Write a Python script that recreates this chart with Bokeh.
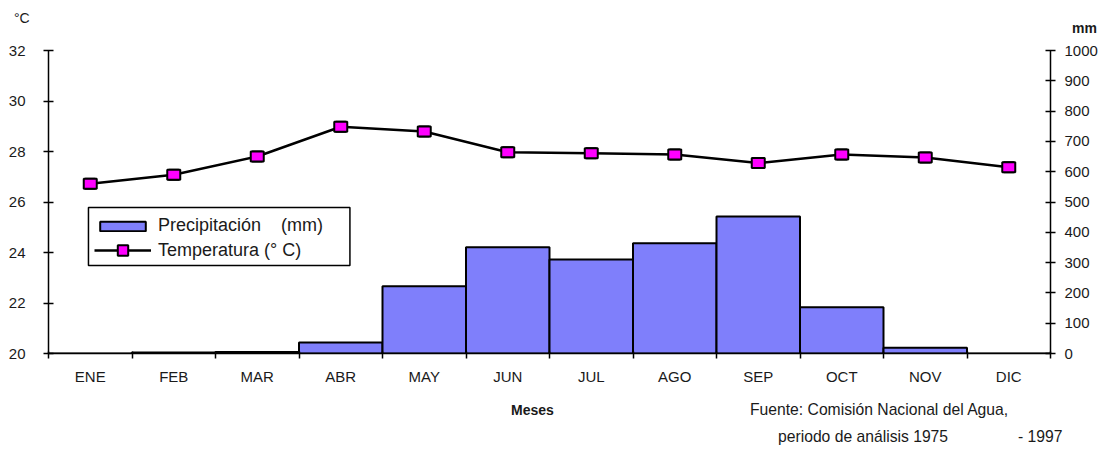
from bokeh.plotting import figure
from bokeh.models import (Range1d, LinearAxis, FixedTicker, Legend, LegendItem, Div, BoxAnnotation)
from bokeh.layouts import column
from bokeh.embed import file_html
from bokeh.resources import INLINE

months = ["ENE", "FEB", "MAR", "ABR", "MAY", "JUN", "JUL", "AGO", "SEP", "OCT", "NOV", "DIC"]
temperature = [26.72, 27.08, 27.8, 28.98, 28.79, 27.97, 27.93, 27.88, 27.54, 27.88, 27.76, 27.38]
precipitation = [0, 3, 5, 36, 222, 351, 310, 364, 452, 153, 19, 0]
temp_ticks = [20, 22, 24, 26, 28, 30, 32]
mm_ticks = [0, 100, 200, 300, 400, 500, 600, 700, 800, 900, 1000]

x_centers = [i + 0.5 for i in range(len(months))]
x_bounds = list(range(len(months) + 1))

FONT = "Liberation Sans"
TXT = "#1a1a1a"
W = 1100

top_div = Div(width=W, height=40, margin=0, text=(
    f'<div style="position:relative;width:{W}px;height:40px;font-family:\'{FONT}\';color:{TXT};white-space:nowrap">'
    '<span style="position:absolute;left:14px;top:10px;font-size:14px;line-height:16px">°C</span>'
    '<span style="position:absolute;left:1072px;top:20px;font-size:14px;font-weight:bold;line-height:16px">mm</span>'
    '</div>'))

p = figure(width=W, height=355, output_backend="svg", toolbar_location=None,
           x_range=Range1d(0, len(months)), y_range=Range1d(20, 32),
           min_border_left=48, min_border_right=49, min_border_top=10, min_border_bottom=42,
           margin=0)
p.extra_y_ranges = {"mm": Range1d(0, 1000)}
p.outline_line_color = None
p.xgrid.visible = False
p.ygrid.visible = False
p.background_fill_color = "white"
p.border_fill_color = "white"

# bars
bars = p.vbar(x=x_centers, top=precipitation, bottom=0, width=1, y_range_name="mm",
              fill_color="#7f7ffb", line_color="black", line_width=2)
# temperature line
line = p.line(x=x_centers, y=temperature, line_color="black", line_width=2.5)
marker = p.scatter(x=x_centers, y=temperature, marker="square", size=10, fill_color="#ff00ff",
                   line_color="black", line_width=2)
p.rect(x=x_centers, y=temperature, width=13, height=10, width_units="screen",
       height_units="screen", fill_color="#ff00ff", line_color="black", line_width=2)

# x axis
xa = p.xaxis[0]
xa.ticker = FixedTicker(ticks=x_centers, minor_ticks=x_bounds)
xa.major_label_overrides = {c: m for c, m in zip(x_centers, months)}
xa.major_tick_line_color = None
xa.major_tick_in = 0
xa.major_tick_out = 5
xa.minor_tick_in = 2
xa.minor_tick_out = 5
xa.minor_tick_line_color = "black"
xa.minor_tick_line_width = 1.5
xa.axis_line_color = "black"
xa.axis_line_width = 1.5
xa.major_label_standoff = 9
xa.major_label_text_font = FONT
xa.major_label_text_font_size = "15px"
xa.major_label_text_color = TXT

# left axis
ya = p.yaxis[0]
ya.ticker = FixedTicker(ticks=temp_ticks)
ya.major_tick_in = 5
ya.major_tick_out = 5
ya.minor_tick_line_color = None
ya.axis_line_width = 1.5
ya.major_tick_line_width = 1.5
ya.major_label_standoff = 18
ya.major_label_text_font = FONT
ya.major_label_text_font_size = "15px"
ya.major_label_text_color = TXT

# right axis
ra = LinearAxis(y_range_name="mm", ticker=FixedTicker(ticks=mm_ticks))
ra.major_tick_in = 5
ra.major_tick_out = 5
ra.minor_tick_line_color = None
ra.axis_line_width = 1.5
ra.major_tick_line_width = 1.5
ra.major_label_standoff = 9
ra.major_label_text_font = FONT
ra.major_label_text_font_size = "15px"
ra.major_label_text_color = TXT
p.add_layout(ra, "right")

# legend frame
legend_box = BoxAnnotation(left=0.4786, right=3.6099, top=25.782, bottom=23.485,
                           fill_color="white", fill_alpha=1, line_color="black",
                           line_width=1.5, line_alpha=1)
p.add_layout(legend_box)


def style_legend(lg, glyph_h):
    lg.border_line_color = None
    lg.background_fill_alpha = 0
    lg.label_text_font = FONT
    lg.label_text_font_size = "18px"
    lg.label_text_color = TXT
    lg.glyph_width = 57
    lg.glyph_height = glyph_h
    lg.label_height = 21
    lg.label_standoff = 7
    lg.spacing = 0
    lg.padding = 0
    lg.margin = 0


legend_a = Legend(items=[LegendItem(label="Precipitación    (mm)", renderers=[bars])],
                  location=(46, 117))
style_legend(legend_a, 12)
legend_b = Legend(items=[LegendItem(label="Temperatura (° C)", renderers=[line, marker])],
                  location=(46, 90))
style_legend(legend_b, 26)
p.add_layout(legend_a, "center")
p.add_layout(legend_b, "center")

bottom_div = Div(width=W, height=50, margin=0, text=(
    f'<div style="position:relative;width:{W}px;height:50px;font-family:\'{FONT}\';color:{TXT};white-space:nowrap">'
    '<span style="position:absolute;left:511px;top:7px;font-size:14px;font-weight:bold;line-height:16px">Meses</span>'
    '<span style="position:absolute;left:750px;top:6px;font-size:15.7px;line-height:18px">Fuente: Comisión Nacional del Agua,</span>'
    '<span style="position:absolute;left:778px;top:33px;font-size:15.7px;line-height:18px">periodo de análisis 1975</span>'
    '<span style="position:absolute;left:1018px;top:33px;font-size:15.7px;line-height:18px">- 1997</span>'
    '</div>'))

layout = column(top_div, p, bottom_div, spacing=0, margin=0)

open("out.html", "w").write(file_html(layout, INLINE))
